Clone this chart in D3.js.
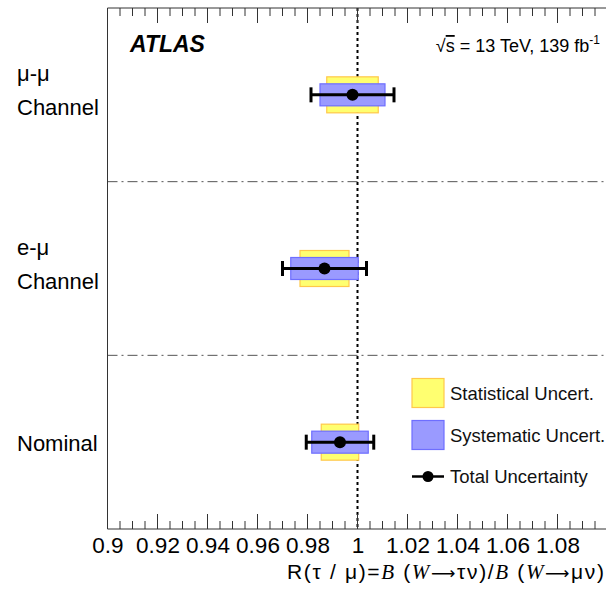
<!DOCTYPE html>
<html><head><meta charset="utf-8">
<script src="https://cdn.jsdelivr.net/npm/d3@7"></script>
<style>body{margin:0;background:#fff}svg{display:block}text{font-family:"Liberation Sans",Arial,Helvetica,sans-serif}</style>
</head><body>
<script>
const categories = ["μ-μ|Channel", "e-μ|Channel", "Nominal"];
const central    = [0.998, 0.9868, 0.993];
const statUnc    = [0.0103, 0.0098, 0.0075];
const systUnc    = [0.0130, 0.0135, 0.0113];
const totalUnc   = [0.0166, 0.0168, 0.0135];
const majorTicks = [0.9,0.92,0.94,0.96,0.98,1,1.02,1.04,1.06,1.08,1.1];
const tickLabels = ["0.9","0.92","0.94","0.96","0.98","1","1.02","1.04","1.06","1.08"];
const minorStep  = 0.005;

const W=606,H=589;
const L=107.5,R=607.5,T=8,B=529;
const svg=d3.select("body").append("svg").attr("width",W).attr("height",H);
const x=d3.scaleLinear().domain([0.9,1.1]).range([L,R]);
const y=d3.scaleBand().domain(categories).range([T,B]);

const minorTicks=d3.range(0,41).map(i=>+(0.9+i*minorStep).toFixed(3));

// separators
y.domain().slice(1).forEach(c=>{
  svg.append("line").attr("x1",L).attr("x2",R).attr("y1",y(c)).attr("y2",y(c))
    .attr("stroke","#555").attr("stroke-width",1).attr("stroke-dasharray","10,4,2,4");
});

// dotted line at 1
svg.append("line").attr("x1",x(1)).attr("x2",x(1)).attr("y1",T).attr("y2",B)
  .attr("stroke","#000").attr("stroke-width",2).attr("stroke-dasharray","3,3");

// data
const g=svg.append("g");
categories.forEach((c,i)=>{
  const cy=y(c)+y.bandwidth()/2;
  g.append("rect").attr("x",x(central[i]-statUnc[i])).attr("width",x(central[i]+statUnc[i])-x(central[i]-statUnc[i]))
    .attr("y",cy-18).attr("height",36).attr("fill","#ffff70").attr("stroke","#ffc84a").attr("stroke-width",1.2);
  g.append("rect").attr("x",x(central[i]-systUnc[i])).attr("width",x(central[i]+systUnc[i])-x(central[i]-systUnc[i]))
    .attr("y",cy-11).attr("height",22).attr("fill","#9a9aff").attr("stroke","#6e6eff").attr("stroke-width",1.2);
  const x0=x(central[i]-totalUnc[i]),x1=x(central[i]+totalUnc[i]);
  g.append("line").attr("x1",x0).attr("x2",x1).attr("y1",cy).attr("y2",cy).attr("stroke","#000").attr("stroke-width",3);
  [x0,x1].forEach(xx=>g.append("line").attr("x1",xx).attr("x2",xx).attr("y1",cy-7.5).attr("y2",cy+7.5).attr("stroke","#000").attr("stroke-width",3));
  g.append("circle").attr("cx",x(central[i])).attr("cy",cy).attr("r",6).attr("fill","#000");
  // labels
  const parts=c.split("|");
  if(parts.length===2){
    svg.append("text").attr("x",17).attr("y",cy-14).attr("font-size",22).text(parts[0]);
    svg.append("text").attr("x",17).attr("y",cy+20).attr("font-size",22).text(parts[1]);
  } else {
    svg.append("text").attr("x",17).attr("y",cy+9).attr("font-size",22).text(parts[0]);
  }
});

// axes
const bottom=d3.axisBottom(x).tickValues(majorTicks).tickSize(0).tickFormat((d,i)=>tickLabels[i]||"");
const ax=svg.append("g").attr("transform",`translate(0,${B})`).call(bottom);
ax.select(".domain").remove();
ax.selectAll("text").attr("font-size",22.5).attr("fill","#000").attr("dy","0.95em").attr("font-family","Liberation Sans, Arial, sans-serif");

function ticks(yBase,dir){
  minorTicks.forEach(t=>{
    const major=majorTicks.some(m=>Math.abs(m-t)<1e-6);
    const len=major?15:8;
    svg.append("line").attr("x1",x(t)).attr("x2",x(t)).attr("y1",yBase).attr("y2",yBase+dir*len).attr("stroke","#333").attr("stroke-width",1);
  });
}
ticks(B,-1); ticks(T,1);

// frame
svg.append("path").attr("d",`M${R},${T}H${L}V${B}H${R}`).attr("fill","none").attr("stroke","#333").attr("stroke-width",1);

// axis title
const serif="Liberation Serif, Times New Roman, serif";
const tt=svg.append("text").attr("x",287).attr("y",579).attr("font-size",21).attr("fill","#000")
  .attr("textLength",317).attr("lengthAdjust","spacing");
tt.append("tspan").text("R(τ / μ)=");
tt.append("tspan").attr("font-family",serif).attr("font-style","italic").text("B");
tt.append("tspan").text(" (");
tt.append("tspan").attr("font-family",serif).attr("font-style","italic").text("W");
tt.append("tspan").attr("font-family","DejaVu Sans").attr("font-size",17).text("⟶");
tt.append("tspan").text("τν)/");
tt.append("tspan").attr("font-family",serif).attr("font-style","italic").text("B");
tt.append("tspan").text(" (");
tt.append("tspan").attr("font-family",serif).attr("font-style","italic").text("W");
tt.append("tspan").attr("font-family","DejaVu Sans").attr("font-size",17).text("⟶");
tt.append("tspan").text("μν)");

// ATLAS label
svg.append("text").attr("x",130).attr("y",52).attr("font-size",23).attr("font-weight","bold").attr("font-style","italic").text("ATLAS");
const en=svg.append("text").attr("x",600).attr("y",52).attr("text-anchor","end").attr("font-size",18);
en.append("tspan").text("√");
en.append("tspan").style("text-decoration","overline").text("s");
en.append("tspan").text(" = 13 TeV, 139 fb");
en.append("tspan").attr("font-size",12).attr("dy",-8).text("-1");

// legend
const lg=svg.append("g");
lg.append("rect").attr("x",412).attr("y",378.5).attr("width",32).attr("height",29).attr("fill","#ffff70").attr("stroke","#ffc84a").attr("stroke-width",1.2);
lg.append("rect").attr("x",412).attr("y",420.5).attr("width",32).attr("height",29).attr("fill","#9a9aff").attr("stroke","#6e6eff").attr("stroke-width",1.2);
lg.append("line").attr("x1",412).attr("x2",444).attr("y1",476.5).attr("y2",476.5).attr("stroke","#000").attr("stroke-width",2.5);
lg.append("circle").attr("cx",428).attr("cy",476.5).attr("r",5.5).attr("fill","#000");
[["Statistical Uncert.",400],["Systematic Uncert.",442],["Total Uncertainty",483]].forEach(([t,yy])=>{
  lg.append("text").attr("x",450).attr("y",yy).attr("font-size",18.5).attr("fill","#111").text(t);
});
</script>
</body></html>
